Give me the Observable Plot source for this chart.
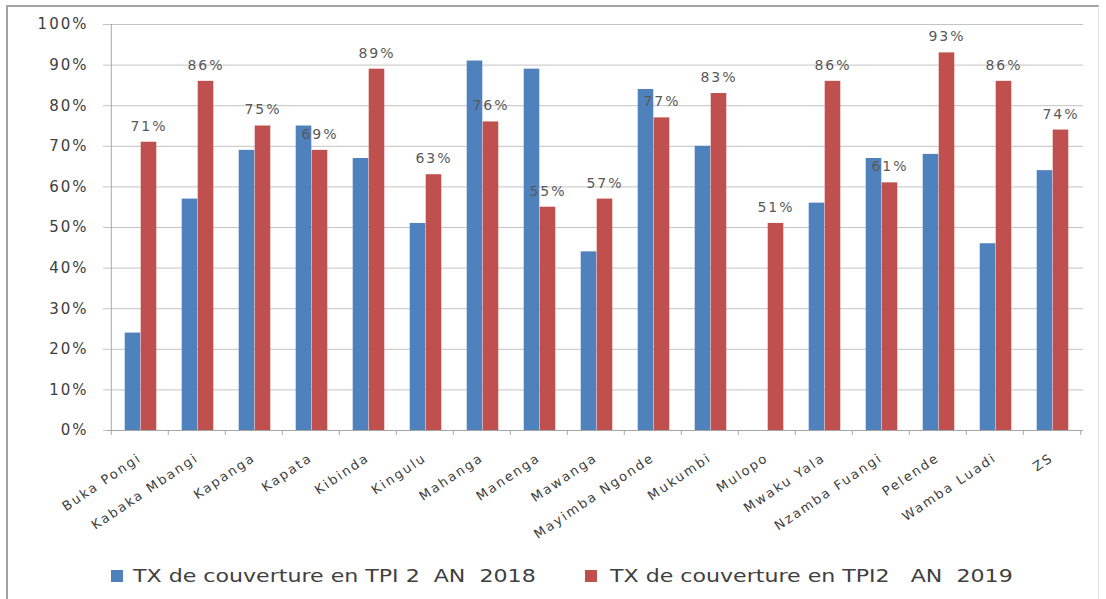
<!DOCTYPE html>
<html><head><meta charset="utf-8">
<script src="https://cdn.jsdelivr.net/npm/d3@7"></script>
<script src="https://cdn.jsdelivr.net/npm/@observablehq/plot@0.6"></script>
<style>
body{margin:0;background:#fff;font-family:"DejaVu Sans",sans-serif;}
#wrap{position:relative;width:1106px;height:599px;overflow:hidden;background:#fff;}
#frame{position:absolute;left:6px;top:5px;width:1090px;height:620px;border-top:2px solid #a3a3a3;border-left:2px solid #a3a3a3;border-right:1px solid #e4e4e4;pointer-events:none;}
#legend{position:relative;height:44px;}
.lg{position:absolute;top:11px;height:20px;display:flex;align-items:center;}
.sw{width:12px;height:12px;flex:none;}
.lt{white-space:pre;font-size:17px;color:#404040;transform:scaleX(1.3);transform-origin:left center;}
</style></head>
<body>
<div id="wrap">
  <div id="chart"></div>
  <div id="legend"></div>
  <div id="frame"></div>
</div>
<script>
const categories = ["Buka Pongi","Kabaka Mbangi","Kapanga","Kapata","Kibinda","Kingulu","Mahanga","Manenga","Mawanga","Mayimba Ngonde","Mukumbi","Mulopo","Mwaku Yala","Nzamba Fuangi","Pelende","Wamba Luadi","ZS"];
const tx2018 = [24,57,69,75,67,51,91,89,44,84,70,null,56,67,68,46,64];
const tx2019 = [71,86,75,69,89,63,76,55,57,77,83,51,86,61,93,86,74];
const yTicks = [0,10,20,30,40,50,60,70,80,90,100];
const seriesNames = ["TX de couverture en TPI 2  AN  2018", "TX de couverture en TPI2   AN  2019"];
const seriesColors = ["#4F81BD", "#C0504D"];

const W = 1106, H = 555, mL = 107, mR = 23, mT = 24, mB = 125;
const bw = (W - mL - mR) / categories.length;

const rows18 = categories.map((c, i) => ({cat: c, v: tx2018[i]})).filter(d => d.v != null);
const rows19 = categories.map((c, i) => ({cat: c, v: tx2019[i]}));

const chart = Plot.plot({
  width: W, height: H,
  marginLeft: mL, marginRight: mR, marginTop: mT, marginBottom: mB,
  style: "font-family:'DejaVu Sans',sans-serif;font-size:13px;letter-spacing:2px;color:#404040;background:none;overflow:visible;",
  x: {type: "band", domain: categories, padding: 0, label: null},
  y: {domain: [0, 100], label: null},
  marks: [
    Plot.ruleY(yTicks, {y: d => d, stroke: "#c4c4c4", insetLeft: -4}),
    Plot.ruleX([categories[0]], {x: d => d, dx: -bw / 2, y1: 0, y2: 100, stroke: "#a6a6a6"}),
    Plot.ruleY([0], {stroke: "#a6a6a6"}),
    Plot.ruleX(categories, {x: d => d, dx: -bw / 2, y1: 0, y2: 0, insetBottom: -5, stroke: "#a6a6a6"}),
    Plot.ruleX([categories[categories.length - 1]], {x: d => d, dx: bw / 2, y1: 0, y2: 0, insetBottom: -5, stroke: "#a6a6a6"}),
    Plot.barY(rows18, {x: "cat", y: "v", fill: seriesColors[0], insetLeft: 13.7, insetRight: bw - 29.7}),
    Plot.barY(rows19, {x: "cat", y: "v", fill: seriesColors[1], insetLeft: 29.7, insetRight: bw - 45.7}),
    Plot.text(rows19, {x: "cat", y: "v", text: d => d.v + "%", dy: -16, dx: 9, fontSize: 14, fill: "#595959", style: "letter-spacing:2.5px"}),
    Plot.axisY({ticks: yTicks, tickFormat: d => d + "%", tickSize: 0, tickPadding: 19, fontSize: 15, label: null}),
    Plot.axisX({tickRotate: -34, tickSize: 0, tickPadding: 26, fontSize: 13, label: null})
  ]
});
document.getElementById("chart").appendChild(chart);

const legend = document.getElementById("legend");
const lefts = [111, 585];
const gaps = [10, 13];
seriesNames.forEach((name, i) => {
  const item = document.createElement("div");
  item.className = "lg";
  item.style.left = lefts[i] + "px";
  const sw = document.createElement("div");
  sw.className = "sw";
  sw.style.background = seriesColors[i];
  sw.style.marginRight = gaps[i] + "px";
  const t = document.createElement("span");
  t.className = "lt";
  t.textContent = name;
  item.appendChild(sw);
  item.appendChild(t);
  legend.appendChild(item);
});
</script>
</body></html>
